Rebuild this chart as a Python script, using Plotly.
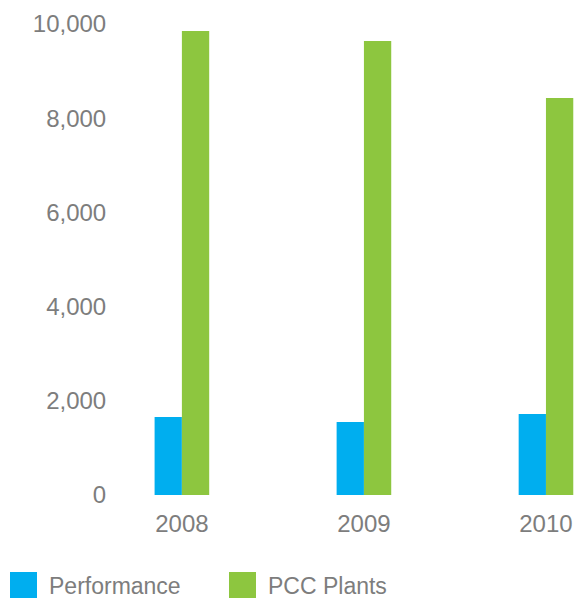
import plotly.graph_objects as go

years = ["2008", "2009", "2010"]
performance = [1656, 1550, 1720]
pcc_plants = [9851, 9639, 8429]
y_ticks = [0, 2000, 4000, 6000, 8000, 10000]
y_tick_labels = ["0", "2,000", "4,000", "6,000", "8,000", "10,000"]

BLUE = "#00AEEF"
GREEN = "#8DC63F"
GRAY = "#7d7d7d"
FONT = "Liberation Sans, Arial, sans-serif"

W, H = 576, 599
L, R, T, B = 120, 0, 24, 599 - 495
PW, PH = W - L - R, H - T - B

fig = go.Figure()
fig.add_trace(go.Bar(x=years, y=performance, name="Performance", marker_color=BLUE,
                     marker_line_width=0, showlegend=False))
fig.add_trace(go.Bar(x=years, y=pcc_plants, name="PCC Plants", marker_color=GREEN,
                     marker_line_width=0, showlegend=False))

fig.update_layout(
    width=W, height=H,
    margin=dict(l=L, r=R, t=T, b=B, pad=0),
    paper_bgcolor="white", plot_bgcolor="white",
    barmode="group", bargap=0.70, bargroupgap=0,
    font=dict(family=FONT, color=GRAY, size=23),
    xaxis=dict(type="category", range=[-0.34, 2.165], showgrid=False, showline=False,
               zeroline=False, ticks="outside", ticklen=7, tickcolor="rgba(0,0,0,0)",
               ticklabeloverflow="allow",
               tickfont=dict(size=24, color=GRAY, family=FONT)),
    yaxis=dict(range=[0, 10000], tickvals=y_ticks, ticktext=y_tick_labels,
               showgrid=False, showline=False, zeroline=False,
               ticks="outside", ticklen=8, tickcolor="rgba(0,0,0,0)",
               ticklabeloverflow="allow",
               tickfont=dict(size=24, color=GRAY, family=FONT)),
)

# Legend drawn as shapes + text at the bottom (page pixel positions)
legend_items = [("Performance", BLUE, 10), ("PCC Plants", GREEN, 229)]
for label, color, x0 in legend_items:
    fig.add_shape(type="rect", xref="paper", yref="paper",
                  x0=(x0 - L) / PW, x1=(x0 + 27 - L) / PW,
                  y0=(H - B - 598) / PH, y1=(H - B - 572) / PH,
                  fillcolor=color, line_width=0)
    fig.add_annotation(xref="paper", yref="paper",
                       x=(x0 + 37 - L) / PW, y=(H - B - 586) / PH,
                       xanchor="left", yanchor="middle", showarrow=False,
                       text=label, font=dict(size=23, color=GRAY, family=FONT))

fig.write_html(
    "out.html",
    config={"displayModeBar": False},
    post_script="document.body.style.margin='0';document.body.style.overflow='hidden';",
)
